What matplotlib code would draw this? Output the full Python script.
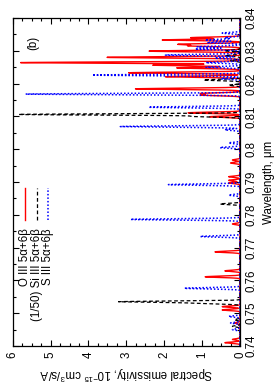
import numpy as np
import matplotlib
matplotlib.use("Agg")
import matplotlib.pyplot as plt

plt.rcParams['font.family'] = ['Liberation Sans Narrow', 'Liberation Sans', 'DejaVu Sans']
plt.rcParams['mathtext.fontset'] = 'custom'
plt.rcParams['mathtext.rm'] = 'Liberation Sans'
plt.rcParams['mathtext.it'] = 'Liberation Sans:italic'

# ---- data: line positions (um) and peak emissivity (1e-15 cm^3/s/A) ----
o3_wl = [0.8340, 0.8333, 0.8320, 0.8315, 0.8299, 0.8280, 0.8264, 0.8256, 0.8248,
         0.8233, 0.8221, 0.8184, 0.8170, 0.8165, 0.8111, 0.8099, 0.7967, 0.7958,
         0.7916, 0.7905, 0.7897, 0.7772, 0.7687, 0.7629, 0.7611, 0.7520, 0.7510,
         0.7470, 0.7420, 0.7410]
o3_em = [1.30, 2.05, 1.58, 1.30, 2.40, 3.51, 5.79, 2.30, 1.67,
         2.94, 1.97, 2.76, 1.00, 1.00, 1.37, 0.80, 0.20, 0.25,
         0.30, 0.30, 0.30, 0.20, 0.66, 0.40, 0.92, 0.47, 0.47,
         0.15, 0.20, 0.40]

si3_wl = [0.8300, 0.8285, 0.8270, 0.8211, 0.8195, 0.8106, 0.8100, 0.7833,
          0.7535, 0.7530, 0.7480, 0.7460]
si3_em = [0.42, 0.40, 0.25, 0.96, 0.30, 5.83, 1.20, 0.53,
          3.16, 1.00, 0.15, 0.20]

s3_wl = [0.8354, 0.8340, 0.8333, 0.8325, 0.8312, 0.8305, 0.8287, 0.8278, 0.8264,
         0.8250, 0.8226, 0.8215, 0.8168, 0.8128, 0.8069, 0.8059, 0.8019, 0.8005,
         0.7892, 0.7860, 0.7786, 0.7734, 0.7576, 0.7490, 0.7470, 0.7450]
s3_em = [0.47, 0.40, 0.92, 0.87, 1.13, 1.18, 1.97, 0.66, 0.90,
         0.90, 3.90, 0.50, 5.66, 2.41, 3.16, 0.40, 0.30, 0.53,
         1.89, 0.30, 2.89, 1.05, 1.47, 0.30, 0.25, 0.20]

series_labels = ['O III 5α+6β', '(1/50) Si III 5α+6β', 'S III 5α+6β']
wl_ticks = [0.74, 0.75, 0.76, 0.77, 0.78, 0.79, 0.80, 0.81, 0.82, 0.83, 0.84]
wl_ticklabels = ['0.74', '0.75', '0.76', '0.77', '0.78', '0.79', '0.8', '0.81', '0.82', '0.83', '0.84']
em_ticks = [0, 1, 2, 3, 4, 5, 6]

# ---- broadened spectrum ----
grid = np.linspace(0.74, 0.84, 5001)
sigma = 0.0002

def spectrum(wl, em):
    out = np.zeros_like(grid)
    for w, e in zip(wl, em):
        out += e * np.exp(-0.5 * ((grid - w) / sigma) ** 2)
    return out

fig = plt.figure(figsize=(2.74, 3.90), dpi=100)
ax = fig.add_axes([0.0464, 0.1128, 0.8296, 0.841])

styles = [dict(color='#ff0000', lw=1.0, ls='-'),
          dict(color='#000000', lw=0.9, ls=(0, (3, 2))),
          dict(color='#0000ff', lw=1.1, ls=(0, (1, 1.3)))]
data = [(o3_wl, o3_em), (si3_wl, si3_em), (s3_wl, s3_em)]
for (wl, em), st in zip(data, styles):
    ax.plot(spectrum(wl, em), grid, **st)

ax.set_xlim(6, 0)
ax.set_ylim(0.74, 0.84)

ax.set_yticks(wl_ticks)
ax.set_yticklabels(wl_ticklabels)
ax.set_yticks(np.arange(0.745, 0.84, 0.01), minor=True)
ax.set_xticks(em_ticks)
ax.set_xticklabels([str(t) for t in em_ticks])
ax.set_xticks(np.arange(0, 6.01, 0.25), minor=True)

ax.tick_params(which='both', direction='in', top=True, bottom=True, left=True, right=True,
               labelleft=False, labelright=True, width=0.8)
ax.tick_params(which='major', length=4)
ax.tick_params(which='minor', length=2)
ax.tick_params(axis='y', labelrotation=90, pad=4, labelsize=8.3)
ax.tick_params(axis='x', labelrotation=90, pad=4, labelsize=8.3)
for lbl in ax.get_yticklabels():
    lbl.set_va('center')
for lbl in ax.get_xticklabels():
    lbl.set_ha('center')

for sp in ax.spines.values():
    sp.set_linewidth(0.9)

ax.yaxis.set_label_position('right')
ax.set_ylabel('Wavelength, μm', rotation=90, fontsize=8.3, labelpad=4)
ax.set_xlabel('Spectral emissivity, 10$^{-15}$ cm$^3$/s/A', rotation=180, fontsize=8.3, labelpad=4)

# legend (rotated layout)
xs = [0.054, 0.1056, 0.157]
for x, st, lab in zip(xs, styles, series_labels):
    ax.plot([x, x], [0.384, 0.482], transform=ax.transAxes, **st)
    ax.text(x, 0.36, lab, transform=ax.transAxes, rotation=90, ha='center', va='top',
            fontsize=8.3)

ax.text(0.089, 0.924, '(b)', transform=ax.transAxes, rotation=90, ha='center', va='center',
        fontsize=8.3)

fig.savefig('out.png', dpi=100)
